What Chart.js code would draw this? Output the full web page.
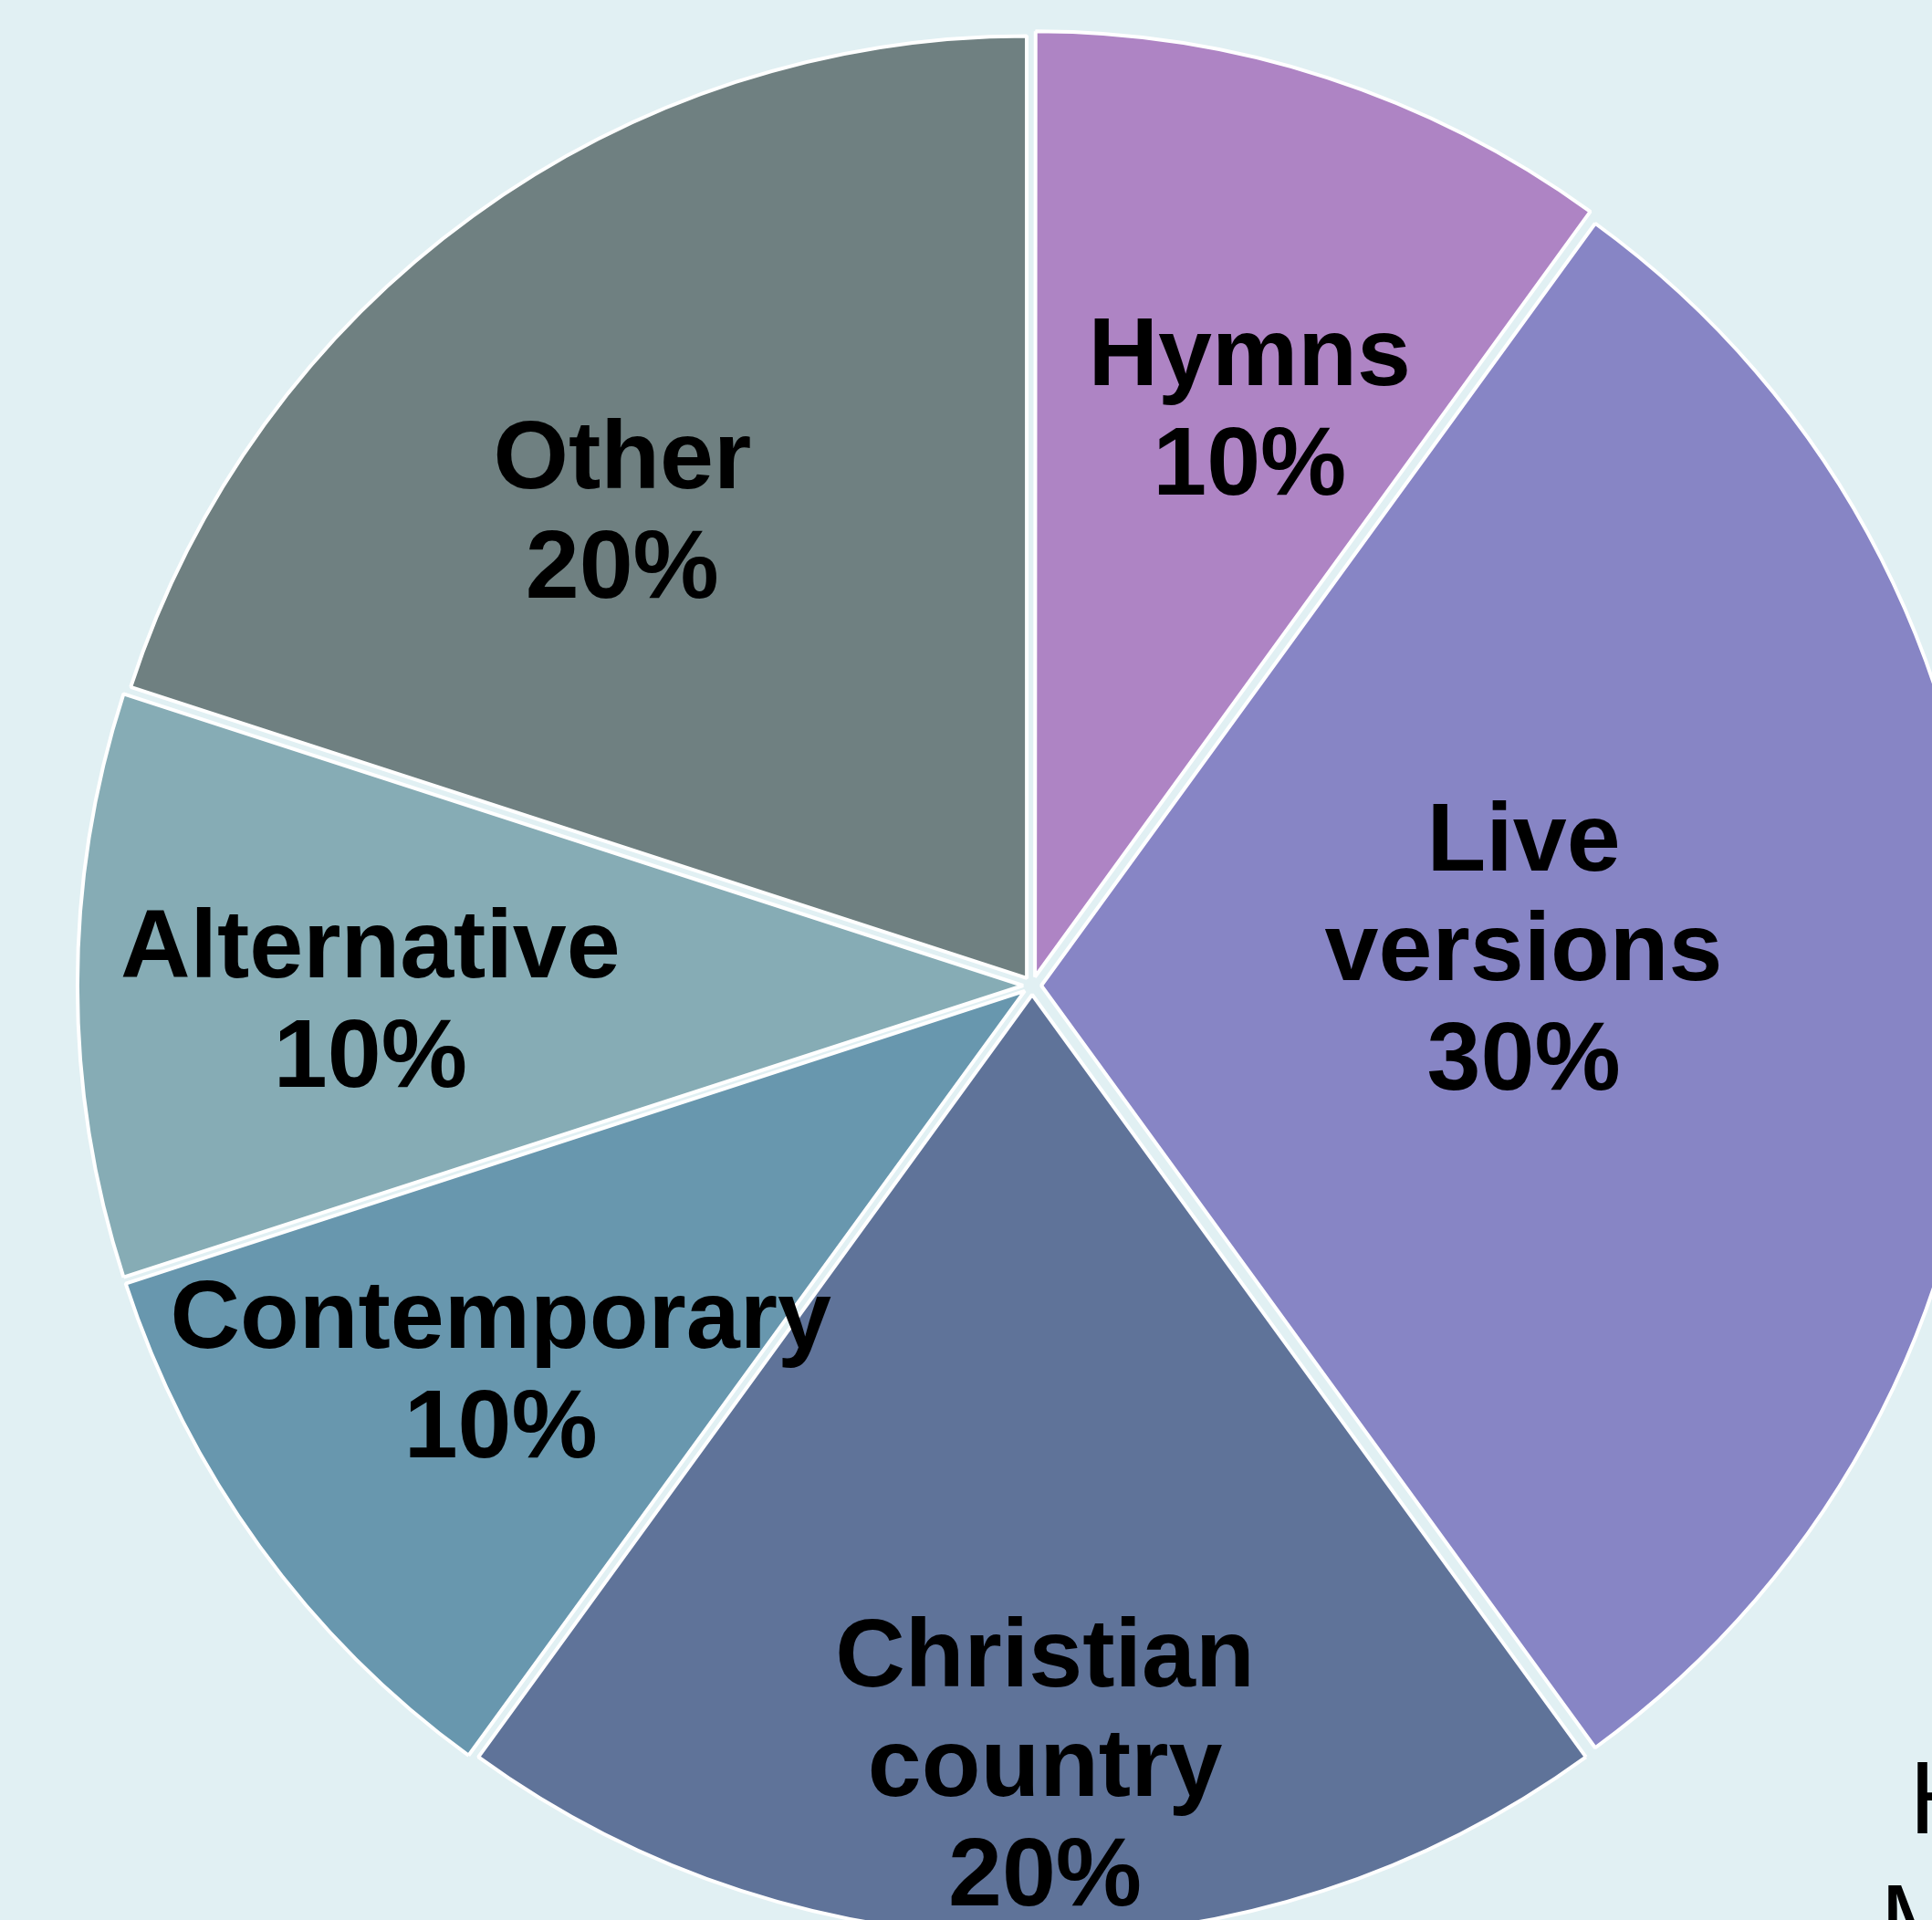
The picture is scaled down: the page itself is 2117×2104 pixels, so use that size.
<!DOCTYPE html>
<html>
<head>
<meta charset="utf-8">
<script src="https://cdn.jsdelivr.net/npm/chart.js@4/dist/chart.umd.min.js"></script>
<style>
  html, body { margin: 0; padding: 0; background: #e1f0f3; overflow: hidden; width: 2117px; height: 2104px; }
  #wrap { position: absolute; left: 0; top: 0; width: 2262px; height: 2160px; }
</style>
</head>
<body>
<div id="wrap"><canvas id="pie" width="2262" height="2160"></canvas></div>
<script>
// datos del gráfico
const categorias = ['Hymns', 'Live versions', 'Christian country', 'Contemporary', 'Alternative', 'Other'];
const lineasEtiqueta = [['Hymns'], ['Live', 'versions'], ['Christian', 'country'], ['Contemporary'], ['Alternative'], ['Other']];
const valores = [10, 30, 20, 10, 10, 20];
const colores = ['#ae84c4', '#8785c5', '#5f7399', '#6897ae', '#86acb5', '#6f8081'];

// ubicación de cada etiqueta: fracción del radio y fracción del ángulo de la porción
const radioEtiqueta = [0.650, 0.523, 0.832, 0.700, 0.703, 0.662];
const anguloEtiqueta = [0.578, 0.465, 0.487, 0.492, 0.452, 0.429];

const etiquetasPlugin = {
  id: 'etiquetas',
  afterDatasetsDraw(chart) {
    const {ctx} = chart;
    const meta = chart.getDatasetMeta(0);
    const total = valores.reduce((a, b) => a + b, 0);
    ctx.save();
    ctx.fillStyle = '#000';
    ctx.font = 'bold 106px "Liberation Sans", Arial, sans-serif';
    ctx.textAlign = 'center';
    ctx.textBaseline = 'middle';
    meta.data.forEach((arc, i) => {
      const p = arc.getProps(['x', 'y', 'startAngle', 'endAngle', 'outerRadius'], true);
      const ang = p.startAngle + (p.endAngle - p.startAngle) * anguloEtiqueta[i];
      const r = p.outerRadius * radioEtiqueta[i];
      const cx = p.x + Math.cos(ang) * r;
      const cy = p.y + Math.sin(ang) * r;
      const lineas = lineasEtiqueta[i].concat([Math.round(valores[i] / total * 100) + '%']);
      const alto = 120;
      const y0 = cy - (lineas.length - 1) * alto / 2;
      lineas.forEach((t, k) => ctx.fillText(t, cx, y0 + k * alto));
    });
    // texto cortado abajo a la derecha
    ctx.font = '113px "Liberation Sans", Arial, sans-serif';
    ctx.textAlign = 'left';
    ctx.textBaseline = 'alphabetic';
    ctx.fillText('Hymns', 2092, 2009);
    ctx.fillText('Music', 2060, 2144);
    ctx.restore();
  }
};

new Chart(document.getElementById('pie').getContext('2d'), {
  type: 'pie',
  data: {
    labels: categorias,
    datasets: [{
      data: valores,
      backgroundColor: colores,
      borderColor: '#ffffff',
      borderWidth: 4,
      offset: 40
    }]
  },
  options: {
    responsive: false,
    devicePixelRatio: 1,
    animation: false,
    layout: { padding: 26 },
    plugins: {
      legend: { display: false },
      tooltip: { enabled: false }
    }
  },
  plugins: [etiquetasPlugin]
});
</script>
</body>
</html>
